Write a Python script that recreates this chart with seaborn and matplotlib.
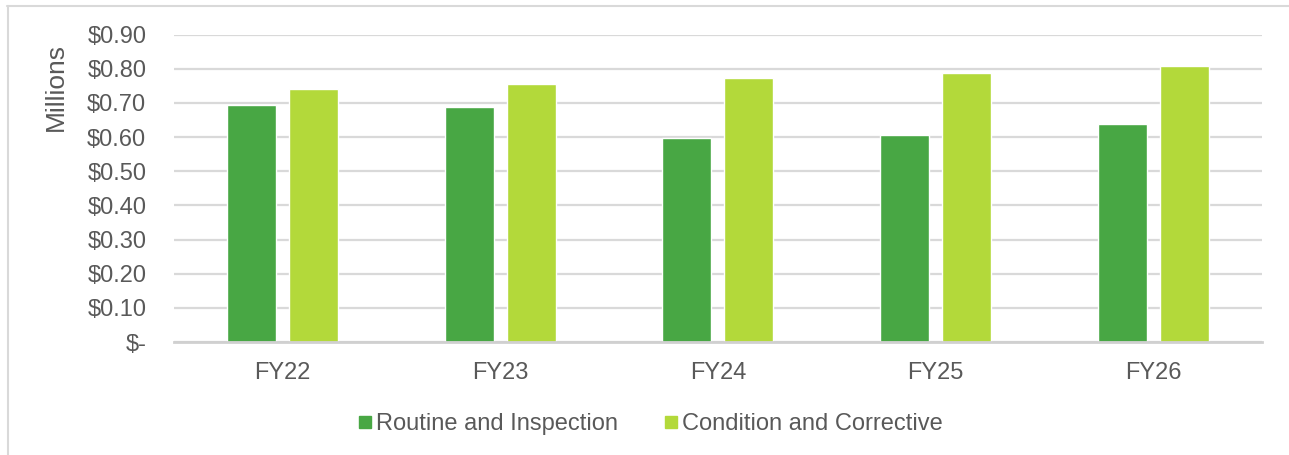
import matplotlib
matplotlib.use("Agg")
import matplotlib.pyplot as plt
from matplotlib.lines import Line2D
from matplotlib.ticker import FuncFormatter
import pandas as pd
import seaborn as sns

# Maintenance spend by fiscal year ($ millions)
years = ["FY22", "FY23", "FY24", "FY25", "FY26"]
series_names = ["Routine and Inspection", "Condition and Corrective"]
routine = [0.694, 0.687, 0.596, 0.605, 0.638]
corrective = [0.740, 0.755, 0.773, 0.789, 0.807]
y_ticks = [0.0, 0.1, 0.2, 0.3, 0.4, 0.5, 0.6, 0.7, 0.8, 0.9]

colors = ["#48A744", "#B3D93A"]
text_gray = "#595959"
grid_gray = "#D9D9D9"

df = pd.DataFrame({
    "year": years * 2,
    "series": [series_names[0]] * len(years) + [series_names[1]] * len(years),
    "value": routine + corrective,
})

sns.set_theme(style="white")
plt.rcParams["font.family"] = ["Liberation Sans", "DejaVu Sans"]

fig = plt.figure(figsize=(12.89, 4.55), dpi=100)
ax = fig.add_axes([0.135, 0.248, 0.844, 0.676])

sns.barplot(data=df, x="year", y="value", hue="series", palette=colors,
            width=0.57, gap=0.21, ax=ax, legend=False, saturation=1)

ax.set_xlim(-0.5, len(years) - 0.5)
ax.set_ylim(0, 0.9)
ax.set_yticks(y_ticks)
ax.yaxis.set_major_formatter(
    FuncFormatter(lambda v, _: "$-" if abs(v) < 1e-9 else f"${v:.2f}"))
ax.grid(axis="y", color=grid_gray, linewidth=1.6)
ax.set_axisbelow(True)
for side in ["top", "right", "left"]:
    ax.spines[side].set_visible(False)
ax.spines["bottom"].set_color("#D0D0D0")
ax.spines["bottom"].set_linewidth(2)
ax.tick_params(axis="both", length=0, labelsize=17, colors=text_gray)
ax.tick_params(axis="y", pad=20)
ax.tick_params(axis="x", pad=14)
ax.set_xlabel("")
ax.set_ylabel("")

fig.text(0.043, 0.809, "Millions", rotation=90, ha="center", va="center",
         fontsize=19, color=text_gray)

handles = [Line2D([], [], marker="s", linestyle="none", markersize=8,
                  markerfacecolor=c, markeredgecolor=c) for c in colors]
fig.legend(handles, series_names, loc="center", bbox_to_anchor=(0.505, 0.068),
           ncol=2, frameon=False, fontsize=17, labelcolor=text_gray,
           handletextpad=0.2, columnspacing=2.0, handlelength=0.5)

# chart-area border (top and left edges)
fig.add_artist(Line2D([7 / 1289, 1.0], [1 - 6 / 455, 1 - 6 / 455],
                      transform=fig.transFigure, color=grid_gray, linewidth=1.5))
fig.add_artist(Line2D([8 / 1289, 8 / 1289], [0.0, 1 - 6 / 455],
                      transform=fig.transFigure, color=grid_gray, linewidth=1.5))

fig.savefig("out.png", dpi=100, facecolor="white")
